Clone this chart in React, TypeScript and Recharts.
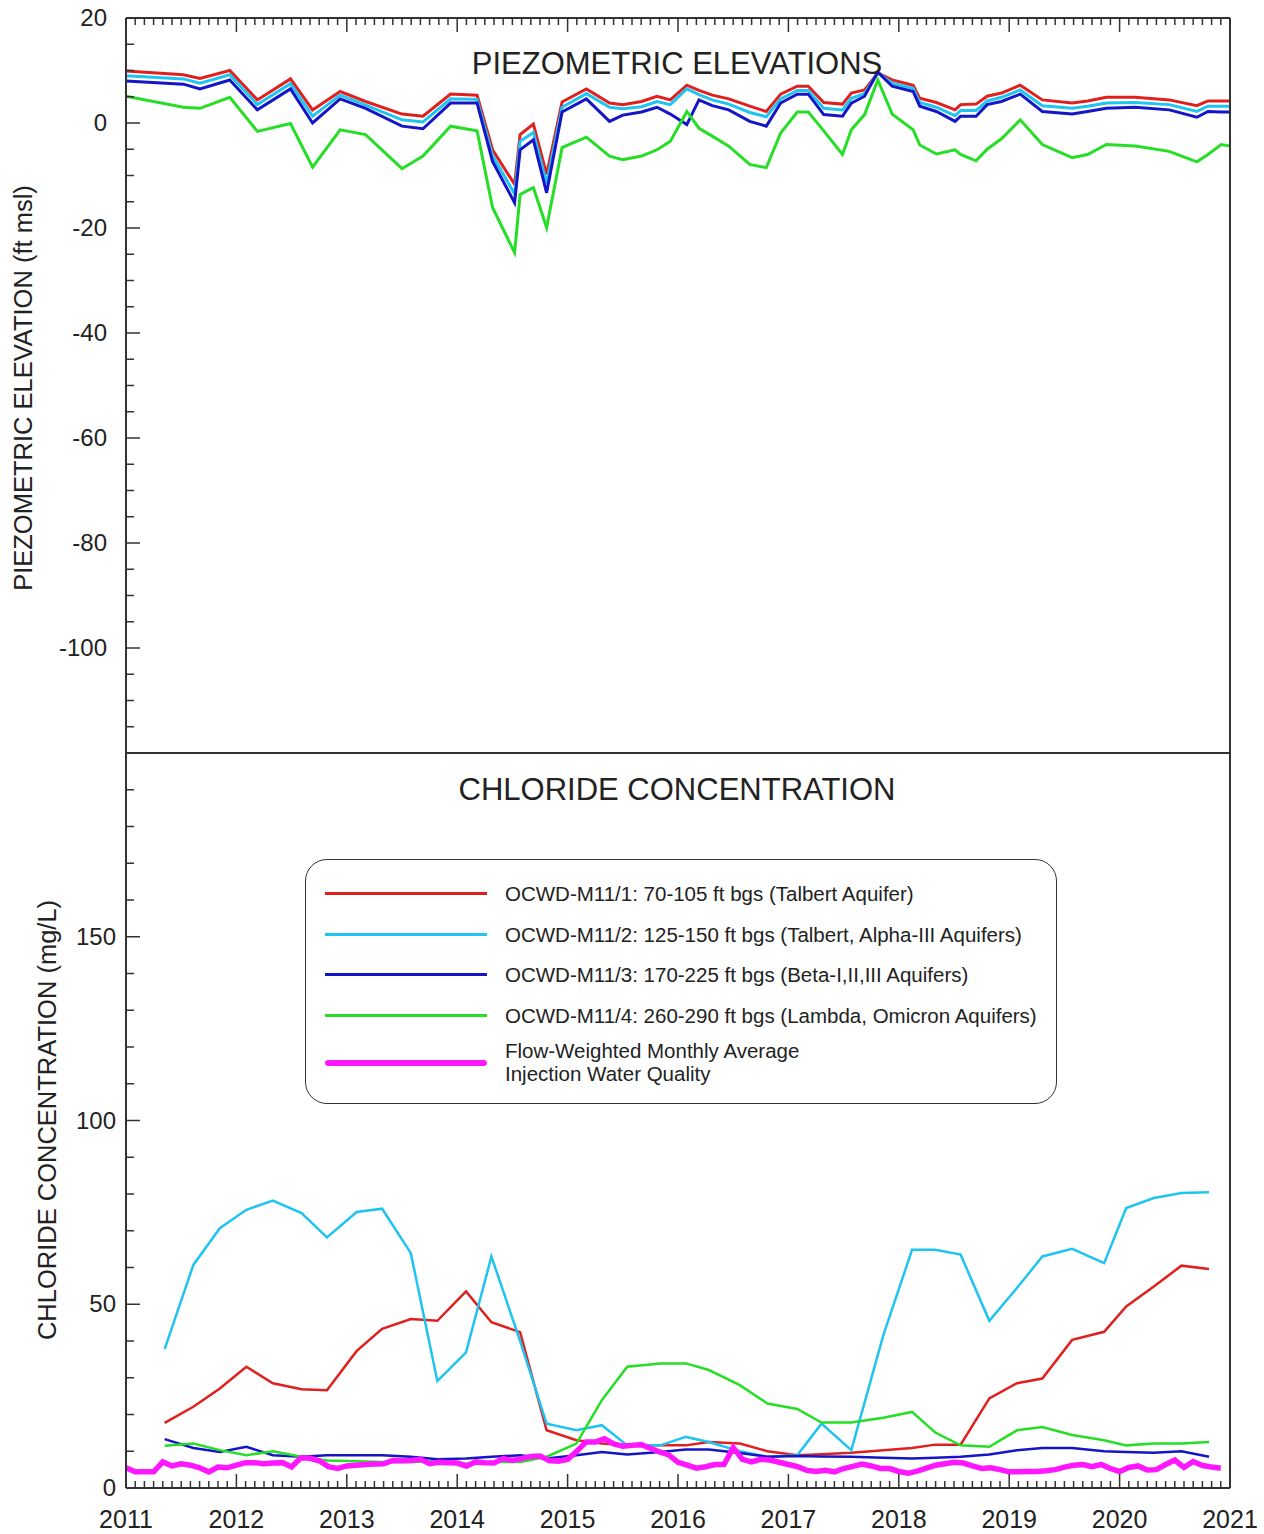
import React from "react";
import { LineChart, Line, XAxis, YAxis, Legend } from "recharts";

// Year tick labels
const YEAR_LABELS = [2011, 2012, 2013, 2014, 2015, 2016, 2017, 2018, 2019, 2020, 2021];

// Piezometric elevations (ft msl), measurement dates as decimal years
const PIEZO_DATES = [
	2011.0, 2011.52, 2011.67, 2011.94, 2012.19, 2012.49, 2012.69, 2012.94, 2013.17, 2013.5,
	2013.69, 2013.94, 2014.18, 2014.32, 2014.52, 2014.57, 2014.69, 2014.81, 2014.95, 2015.17,
	2015.38, 2015.5, 2015.67, 2015.81, 2015.93, 2016.08, 2016.19, 2016.31, 2016.46, 2016.65,
	2016.8, 2016.93, 2017.08, 2017.18, 2017.32, 2017.49, 2017.57, 2017.69, 2017.81, 2017.94,
	2018.13, 2018.19, 2018.34, 2018.51, 2018.56, 2018.7, 2018.8, 2018.93, 2019.1, 2019.3,
	2019.57, 2019.71, 2019.88, 2020.14, 2020.45, 2020.7, 2020.8, 2020.92, 2021.0,
];
const PIEZO_M1 = [
	9.9, 9.2, 8.5, 10.0, 4.4, 8.4, 2.5, 6.0, 4.1, 1.7,
	1.3, 5.5, 5.3, -5.1, -11.7, -2.2, -0.2, -9.8, 4.0, 6.5,
	3.8, 3.5, 4.1, 5.1, 4.4, 7.2, 6.2, 5.3, 4.6, 3.2,
	2.2, 5.5, 7.0, 7.0, 3.9, 3.6, 5.7, 6.3, 9.5, 8.2,
	7.2, 4.7, 3.9, 2.5, 3.5, 3.6, 5.1, 5.7, 7.2, 4.4,
	3.8, 4.2, 4.9, 4.9, 4.4, 3.3, 4.2, 4.2, 4.2,
];
const PIEZO_M2 = [
	9.0, 8.4, 7.6, 9.2, 3.5, 7.5, 1.3, 5.3, 3.4, 0.6,
	0.2, 4.6, 4.5, -6.2, -13.5, -3.5, -1.8, -11.5, 3.0, 5.6,
	3.0, 2.7, 3.1, 4.1, 3.5, 6.5, 5.4, 4.4, 3.6, 2.0,
	1.2, 4.6, 6.2, 6.2, 2.8, 2.5, 4.7, 5.6, 9.6, 7.6,
	6.6, 3.9, 3.0, 1.4, 2.4, 2.4, 4.2, 4.9, 6.3, 3.3,
	2.8, 3.2, 3.8, 3.9, 3.5, 2.2, 3.2, 3.2, 3.2,
];
const PIEZO_M3 = [
	8.0, 7.4, 6.5, 8.2, 2.5, 6.5, 0.0, 4.6, 2.8, -0.6,
	-1.1, 3.8, 3.8, -7.3, -15.2, -5.1, -3.2, -13.3, 2.1, 4.6,
	0.3, 1.5, 2.1, 3.0, 1.7, -0.3, 4.4, 3.3, 2.5, 0.3,
	-0.6, 3.8, 5.5, 5.5, 1.6, 1.3, 3.8, 5.1, 9.7, 7.0,
	6.0, 3.2, 2.2, 0.3, 1.3, 1.3, 3.5, 4.1, 5.5, 2.2,
	1.7, 2.2, 2.8, 3.0, 2.5, 1.1, 2.2, 2.1, 2.1,
];
const PIEZO_M4 = [
	5.1, 3.0, 2.8, 4.9, -1.6, -0.1, -8.4, -1.3, -2.2, -8.7,
	-6.3, -0.6, -1.5, -16.1, -24.7, -13.6, -12.3, -19.9, -4.7, -2.7,
	-6.3, -7.0, -6.3, -5.1, -3.5, 2.2, -1.0, -2.5, -4.4, -7.9,
	-8.5, -1.9, 2.1, 2.1, -1.5, -6.0, -1.3, 1.6, 8.2, 1.7,
	-1.3, -4.2, -5.9, -5.1, -6.0, -7.2, -5.0, -3.0, 0.6, -4.1,
	-6.6, -6.0, -4.1, -4.4, -5.4, -7.4, -6.0, -4.1, -4.4,
];

// Chloride concentration (mg/L)
const CL_DATES = [
	2011.35, 2011.61, 2011.85, 2012.09, 2012.33, 2012.59, 2012.82, 2013.09, 2013.32, 2013.58,
	2013.82, 2014.08, 2014.31, 2014.57, 2014.81, 2015.08, 2015.31, 2015.54, 2015.84, 2016.07,
	2016.28, 2016.56, 2016.81, 2017.08, 2017.3, 2017.57, 2017.86, 2018.12, 2018.33, 2018.56,
	2018.82, 2019.07, 2019.3, 2019.57, 2019.86, 2020.06, 2020.31, 2020.56, 2020.81,
];
const CL_M1 = [
	17.7, 22.1, 27.1, 33.0, 28.5, 26.9, 26.6, 37.3, 43.3, 46.0,
	45.5, 53.5, 45.1, 42.4, 15.7, 13.0, 12.1, 11.6, 11.6, 11.6,
	12.5, 12.1, 10.0, 8.9, 9.2, 9.6, 10.3, 10.9, 11.8, 11.8,
	24.4, 28.5, 29.8, 40.3, 42.5, 49.4, 54.8, 60.5, 59.6,
];
const CL_M2 = [
	37.8, 60.7, 70.7, 75.7, 78.2, 74.8, 68.2, 75.1, 76.0, 63.9,
	29.1, 36.9, 63.0, 40.0, 17.5, 15.7, 17.1, 11.6, 11.6, 13.9,
	12.5, 10.0, 8.5, 8.9, 17.5, 10.3, 41.6, 64.8, 64.8, 63.5,
	45.5, 54.4, 63.0, 65.1, 61.2, 76.2, 78.9, 80.3, 80.5,
];
const CL_M3 = [
	13.3, 10.9, 9.8, 11.2, 8.9, 8.5, 8.9, 8.9, 8.9, 8.5,
	7.8, 8.0, 8.5, 8.9, 8.0, 8.9, 9.8, 9.1, 9.8, 10.5,
	10.5, 9.5, 8.5, 8.7, 8.6, 8.5, 8.2, 8.0, 8.2, 8.5,
	9.1, 10.3, 10.9, 10.9, 10.0, 9.8, 9.6, 10.0, 8.5,
];
const CL_M4 = [
	11.5, 12.1, 10.3, 8.9, 10.0, 8.5, 7.5, 7.3, 7.1, 7.1,
	7.3, 6.6, 7.1, 7.1, 8.5, 12.1, 23.9, 33.0, 33.9, 33.9,
	32.1, 28.0, 23.0, 21.5, 17.8, 17.8, 19.1, 20.7, 15.1, 11.6,
	11.2, 15.7, 16.6, 14.4, 13.0, 11.6, 12.1, 12.1, 12.5,
];
// Flow-weighted monthly average injection water quality, Jan 2011 .. Dec 2020
const INJ_MONTHLY = [
	5.5, 4.4, 4.4, 4.4, 7.1, 6.0, 6.6, 6.2, 5.5, 4.4, 5.7, 5.5,
	6.2, 6.9, 6.9, 6.6, 6.8, 6.9, 5.7, 8.2, 8.1, 7.4, 5.8, 5.3,
	6.0, 6.2, 6.4, 6.5, 6.6, 7.5, 7.4, 7.5, 7.8, 6.6, 7.0, 6.9,
	6.8, 6.0, 7.1, 6.9, 6.8, 8.0, 7.5, 8.0, 8.6, 8.7, 7.5, 7.3,
	7.8, 10.0, 12.5, 12.5, 13.4, 12.0, 11.4, 11.6, 11.8, 10.8, 9.8, 9.0,
	7.0, 6.2, 5.4, 5.8, 6.4, 6.4, 11.0, 7.8, 7.1, 7.8, 7.6, 7.0,
	6.4, 5.8, 4.8, 4.5, 4.8, 4.4, 5.3, 5.9, 6.5, 6.0, 5.3, 5.3,
	4.5, 4.0, 4.6, 5.4, 6.2, 6.6, 7.0, 6.8, 6.0, 5.3, 5.5, 5.0,
	4.4, 4.4, 4.5, 4.5, 4.7, 5.0, 5.7, 6.2, 6.4, 5.8, 6.4, 5.3,
	4.5, 5.6, 6.0, 4.9, 5.0, 6.4, 7.6, 5.6, 7.2, 6.1, 5.7, 5.4,
];

const SERIES = [
	{ key: "m1", name: "OCWD-M11/1: 70-105 ft bgs (Talbert Aquifer)", color: "#e0201e" },
	{ key: "m2", name: "OCWD-M11/2: 125-150 ft bgs (Talbert, Alpha-III Aquifers)", color: "#1fc4f0" },
	{ key: "m3", name: "OCWD-M11/3: 170-225 ft bgs (Beta-I,II,III Aquifers)", color: "#1515c8" },
	{ key: "m4", name: "OCWD-M11/4: 260-290 ft bgs (Lambda, Omicron Aquifers)", color: "#26de26" },
];
const INJ_COLOR = "#ff18ff";

const FONT = '"Liberation Sans", Arial, sans-serif';
const AXIS = "#333";

const zip = (xs: number[], ys: number[]) => xs.map((x, i) => ({ x, v: ys[i] }));
const piezo = [PIEZO_M1, PIEZO_M2, PIEZO_M3, PIEZO_M4].map((ys) => zip(PIEZO_DATES, ys));
const chloride = [CL_M1, CL_M2, CL_M3, CL_M4].map((ys) => zip(CL_DATES, ys));
const injection = INJ_MONTHLY.map((v, i) => ({ x: 2011 + i / 12, v }));

// monthly minor ticks, years are the major ones
const monthTicks: number[] = [];
YEAR_LABELS.forEach((yr, i) => {
	const n = i < YEAR_LABELS.length - 1 ? 12 : 1;
	for (let m = 0; m < n; m++) monthTicks.push(yr + m / 12);
});
const piezoTicks: number[] = [];
for (let v = -120; v <= 20; v += 5) piezoTicks.push(v);
const clTicks: number[] = [];
for (let v = 0; v <= 200; v += 10) clTicks.push(v);

const isYear = (v: number) => Math.abs(v - Math.round(v)) < 1e-6;

const TopTick = (props: any) => {
	const { x, y, payload } = props;
	const len = isYear(payload.value) ? 14 : 7;
	return <line x1={x} x2={x} y1={y} y2={y + len} stroke={AXIS} strokeWidth={1.5} />;
};

const BottomTick = (props: any) => {
	const { x, y, payload } = props;
	const yr = isYear(payload.value);
	return (
		<g>
			<line x1={x} x2={x} y1={y} y2={y - (yr ? 14 : 7)} stroke={AXIS} strokeWidth={1.5} />
			{yr && (
				<text x={x} y={y + 40} textAnchor="middle" fontSize={25} fontFamily={FONT} fill="#222">
					{Math.round(payload.value)}
				</text>
			)}
		</g>
	);
};

const makeLeftTick = (labels: number[], major: number[], dx: number) => (props: any) => {
	const { x, y, payload } = props;
	const v = payload.value;
	return (
		<g>
			<line x1={x} x2={x + (major.includes(v) ? 14 : 8)} y1={y} y2={y} stroke={AXIS} strokeWidth={1.5} />
			{labels.includes(v) && (
				<text x={x - dx} y={y + 8} textAnchor="end" fontSize={24} fontFamily={FONT} fill="#222">
					{v}
				</text>
			)}
		</g>
	);
};

const makeRightTick = (major: number[]) => (props: any) => {
	const { x, y, payload } = props;
	return (
		<line
			x1={x}
			x2={x - (major.includes(payload.value) ? 14 : 8)}
			y1={y}
			y2={y}
			stroke={AXIS}
			strokeWidth={1.5}
		/>
	);
};

const PIEZO_LABELS = [20, 0, -20, -40, -60, -80, -100];
const PIEZO_MAJOR = [20, 0, -20, -40, -60, -80, -100, -120];
const CL_LABELS = [0, 50, 100, 150];
const CL_MAJOR = [0, 50, 100, 150, 200];
const ROW_Y = [34, 75, 115, 156];

const LegendBox = () => (
	<div
		style={{
			position: "relative",
			width: 752,
			height: 245,
			boxSizing: "border-box",
			border: `1.5px solid ${AXIS}`,
			borderRadius: 22,
			background: "#fff",
			fontFamily: FONT,
			fontSize: 20.5,
			color: "#222",
		}}
	>
		{SERIES.map((s, i) => (
			<div key={s.key}>
				<div
					style={{
						position: "absolute",
						left: 19,
						top: ROW_Y[i] - 2,
						width: 162,
						height: 3,
						background: s.color,
					}}
				/>
				<div
					style={{
						position: "absolute",
						left: 199,
						top: ROW_Y[i] - 12,
						whiteSpace: "nowrap",
						lineHeight: "23px",
					}}
				>
					{s.name}
				</div>
			</div>
		))}
		<div
			style={{
				position: "absolute",
				left: 19,
				top: 200,
				width: 162,
				height: 6,
				borderRadius: 3,
				background: INJ_COLOR,
			}}
		/>
		<div
			style={{
				position: "absolute",
				left: 199,
				top: 179,
				whiteSpace: "nowrap",
				lineHeight: "23px",
			}}
		>
			Flow-Weighted Monthly Average
			<br />
			Injection Water Quality
		</div>
	</div>
);

const textStyle: React.CSSProperties = {
	position: "absolute",
	fontFamily: FONT,
	color: "#222",
	whiteSpace: "nowrap",
	lineHeight: 1,
};

export default function App() {
	return (
		<div style={{ position: "absolute", left: 0, top: 0, width: 1264, height: 1534, background: "#fff" }}>
			{/* Upper panel: piezometric elevations */}
			<div style={{ position: "absolute", left: 0, top: 0 }}>
				<LineChart width={1264} height={753} margin={{ top: 17, right: 0, bottom: 0, left: 0 }}>
					<XAxis
						xAxisId="t"
						orientation="top"
						type="number"
						dataKey="x"
						domain={[2011, 2021]}
						ticks={monthTicks}
						interval={0}
						height={1}
						tickSize={0}
						tickMargin={0}
						tickLine={false}
						tick={<TopTick />}
						axisLine={{ stroke: AXIS, strokeWidth: 2 }}
						allowDataOverflow
					/>
					<YAxis
						yAxisId="l"
						orientation="left"
						type="number"
						domain={[-120, 20]}
						ticks={piezoTicks}
						interval={0}
						width={126}
						tickSize={0}
						tickMargin={0}
						tickLine={false}
						tick={makeLeftTick(PIEZO_LABELS, PIEZO_MAJOR, 19)}
						axisLine={{ stroke: AXIS, strokeWidth: 2 }}
						allowDataOverflow
					/>
					<YAxis
						yAxisId="r"
						orientation="right"
						type="number"
						domain={[-120, 20]}
						ticks={piezoTicks}
						interval={0}
						width={34}
						tickSize={0}
						tickMargin={0}
						tickLine={false}
						tick={makeRightTick(PIEZO_MAJOR)}
						axisLine={{ stroke: AXIS, strokeWidth: 2 }}
					/>
					{SERIES.map((s, i) => (
						<Line
							key={s.key}
							xAxisId="t"
							yAxisId="l"
							data={piezo[i]}
							dataKey="v"
							name={s.name}
							type="linear"
							stroke={s.color}
							strokeWidth={3}
							dot={false}
							isAnimationActive={false}
						/>
					))}
				</LineChart>
			</div>

			{/* Lower panel: chloride concentration */}
			<div style={{ position: "absolute", left: 0, top: 743 }}>
				<LineChart width={1264} height={791} margin={{ top: 9, right: 0, bottom: 0, left: 0 }}>
					<XAxis
						xAxisId="t"
						orientation="top"
						type="number"
						dataKey="x"
						domain={[2011, 2021]}
						height={1}
						tick={false}
						tickLine={false}
						axisLine={{ stroke: AXIS, strokeWidth: 2 }}
					/>
					<XAxis
						xAxisId="b"
						orientation="bottom"
						type="number"
						dataKey="x"
						domain={[2011, 2021]}
						ticks={monthTicks}
						interval={0}
						height={46}
						tickSize={0}
						tickMargin={0}
						tickLine={false}
						tick={<BottomTick />}
						axisLine={{ stroke: AXIS, strokeWidth: 2 }}
						allowDataOverflow
					/>
					<YAxis
						yAxisId="l"
						orientation="left"
						type="number"
						domain={[0, 200]}
						ticks={clTicks}
						interval={0}
						width={126}
						tickSize={0}
						tickMargin={0}
						tickLine={false}
						tick={makeLeftTick(CL_LABELS, CL_MAJOR, 10)}
						axisLine={{ stroke: AXIS, strokeWidth: 2 }}
						allowDataOverflow
					/>
					<YAxis
						yAxisId="r"
						orientation="right"
						type="number"
						domain={[0, 200]}
						ticks={clTicks}
						interval={0}
						width={34}
						tickSize={0}
						tickMargin={0}
						tickLine={false}
						tick={makeRightTick(CL_MAJOR)}
						axisLine={{ stroke: AXIS, strokeWidth: 2 }}
					/>
					<Legend
						layout="horizontal"
						verticalAlign="middle"
						align="center"
						content={() => <LegendBox />}
						wrapperStyle={{ left: 305, top: 116, width: 752, height: 245 }}
					/>
					{SERIES.map((s, i) => (
						<Line
							key={s.key}
							xAxisId="b"
							yAxisId="l"
							data={chloride[i]}
							dataKey="v"
							name={s.name}
							type="linear"
							stroke={s.color}
							strokeWidth={2.5}
							dot={false}
							isAnimationActive={false}
						/>
					))}
					<Line
						xAxisId="b"
						yAxisId="l"
						data={injection}
						dataKey="v"
						name="Flow-Weighted Monthly Average Injection Water Quality"
						type="linear"
						stroke={INJ_COLOR}
						strokeWidth={5.5}
						dot={false}
						isAnimationActive={false}
					/>
				</LineChart>
			</div>

			{/* Panel titles and axis titles */}
			<div style={{ ...textStyle, left: 677, top: 48, fontSize: 31, transform: "translateX(-50%)" }}>
				PIEZOMETRIC ELEVATIONS
			</div>
			<div style={{ ...textStyle, left: 677, top: 774, fontSize: 31, transform: "translateX(-50%)" }}>
				CHLORIDE CONCENTRATION
			</div>
			<div
				style={{
					...textStyle,
					left: 24,
					top: 388,
					fontSize: 25.5,
					transform: "translate(-50%, -50%) rotate(-90deg)",
				}}
			>
				PIEZOMETRIC ELEVATION (ft msl)
			</div>
			<div
				style={{
					...textStyle,
					left: 48,
					top: 1120,
					fontSize: 25.5,
					transform: "translate(-50%, -50%) rotate(-90deg)",
				}}
			>
				CHLORIDE CONCENTRATION (mg/L)
			</div>
		</div>
	);
}
